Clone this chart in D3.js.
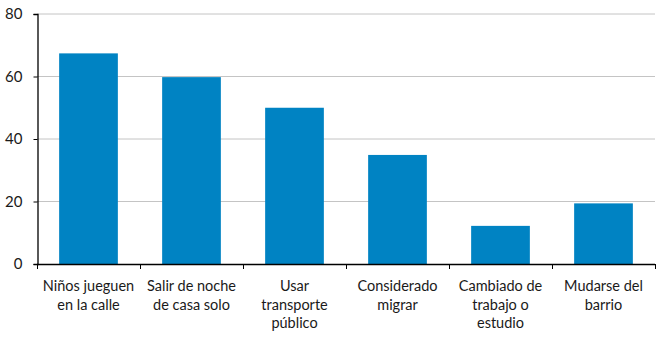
<!DOCTYPE html>
<html>
<head>
<meta charset="utf-8">
<script src="https://cdn.jsdelivr.net/npm/d3@7"></script>
<style>
  body { margin: 0; background: #fff; }
  svg text { font-family: Lato, "Open Sans", sans-serif; fill: #1a1a1a; }
</style>
</head>
<body>
<div id="chart"></div>
<script>
var categories = [
    ["Niños jueguen", "en la calle"],
    ["Salir de noche", "de casa solo"],
    ["Usar", "transporte", "público"],
    ["Considerado", "migrar"],
    ["Cambiado de", "trabajo o", "estudio"],
    ["Mudarse del", "barrio"]
];
var values = [67.4, 59.8, 50, 34.9, 12.2, 19.4];
var yTicks = [0, 20, 40, 60, 80];

function init(){
    var w = 659;
    var h = 339;
    var left = 37, right = 655, top = 14, bottom = 264;

    var svg = d3.select("#chart")
                .append("svg")
                .attr("width", w)
                .attr("height", h);

    var xScale = d3.scaleBand()
                .domain(d3.range(categories.length))
                .range([left, right])
                .paddingInner(0.43)
                .paddingOuter(0.215);

    var yScale = d3.scaleLinear()
                .domain([0, 80])
                .range([bottom, top]);

    // gridlines
    svg.append("g")
        .selectAll("line")
        .data(yTicks.filter(function(d){ return d > 0; }))
        .enter()
        .append("line")
        .attr("x1", left)
        .attr("x2", right)
        .attr("y1", function(d){ return yScale(d); })
        .attr("y2", function(d){ return yScale(d); })
        .attr("stroke", "#c4c4c4")
        .attr("stroke-width", 1);

    // bars
    svg.append("g")
        .selectAll("rect")
        .data(values)
        .enter()
        .append("rect")
        .attr("x", function(d, i){ return xScale(i); })
        .attr("y", function(d){ return yScale(d); })
        .attr("width", xScale.bandwidth())
        .attr("height", function(d){ return bottom - yScale(d); })
        .attr("fill", "#0083c3");

    // y axis
    var yAxis = d3.axisLeft(yScale)
                .tickValues(yTicks)
                .tickSize(4)
                .tickPadding(11);
    var gy = svg.append("g")
        .attr("transform", "translate(" + (left + 0.5) + ",0)")
        .call(yAxis);
    gy.select(".domain").attr("stroke", "#000").attr("stroke-width", 1.3);
    gy.selectAll(".tick line").attr("stroke", "#000");
    gy.selectAll("text")
        .style("font-size", "15px")
        .attr("fill", "#1a1a1a");

    // x axis baseline and ticks between categories
    var xBase = svg.append("g");
    xBase.append("line")
        .attr("x1", left)
        .attr("x2", right)
        .attr("y1", bottom + 0.5)
        .attr("y2", bottom + 0.5)
        .attr("stroke", "#000")
        .attr("stroke-width", 1.3);
    var step = xScale.step();
    xBase.selectAll("line.sep")
        .data(d3.range(categories.length + 1))
        .enter()
        .append("line")
        .attr("class", "sep")
        .attr("x1", function(d){ return left + 0.5 + d * step; })
        .attr("x2", function(d){ return left + 0.5 + d * step; })
        .attr("y1", bottom)
        .attr("y2", bottom + 5)
        .attr("stroke", "#000");

    // category labels
    var labels = svg.append("g")
        .selectAll("text")
        .data(categories)
        .enter()
        .append("text")
        .attr("text-anchor", "middle")
        .style("font-size", "14.5px")
        .attr("transform", function(d, i){
            return "translate(" + (xScale(i) + xScale.bandwidth() / 2) + ",291)";
        });
    labels.selectAll("tspan")
        .data(function(d){ return d; })
        .enter()
        .append("tspan")
        .attr("x", 0)
        .attr("y", function(d, j){ return j * 18.5; })
        .text(function(d){ return d; });
}
window.onload = init;
</script>
</body>
</html>
